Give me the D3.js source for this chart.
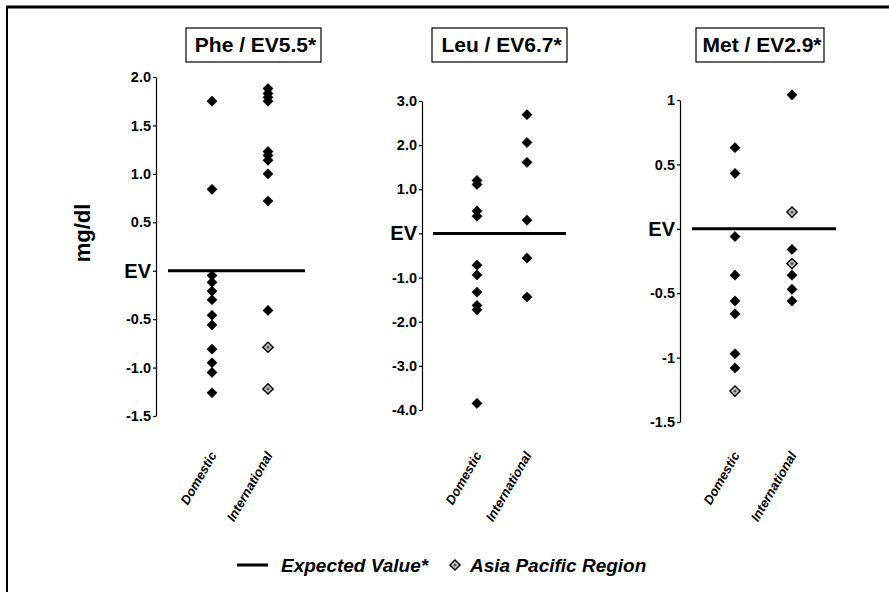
<!DOCTYPE html>
<html>
<head>
<meta charset="utf-8">
<script src="https://cdn.jsdelivr.net/npm/d3@7"></script>
<style>
  body { margin: 0; background: #fff; }
  svg { display: block; font-family: "Liberation Sans", Arial, sans-serif; }
</style>
</head>
<body>
<svg id="chart" width="889" height="592"></svg>
<script>
const categories = ["Domestic", "International"];
const titles = ["Phe / EV5.5*", "Leu / EV6.7*", "Met / EV2.9*"];
const expectedValue = 0;
const legendLabels = ["Expected Value*", "Asia Pacific Region"];

// Phe
const pheDomestic = [1.75, 0.84, -0.05, -0.12, -0.21, -0.30, -0.46, -0.56, -0.81, -0.95, -1.05, -1.26];
const pheDomAsiaPacific = [];
const pheInternational = [1.88, 1.83, 1.79, 1.75, 1.23, 1.19, 1.14, 1.00, 0.72, -0.41];
const pheIntlAsiaPacific = [-0.79, -1.22];
const pheTicks = [2.0, 1.5, 1.0, 0.5, 0, -0.5, -1.0, -1.5];
const pheTickLabels = ["2.0", "1.5", "1.0", "0.5", "EV", "-0.5", "-1.0", "-1.5"];

// Leu
const leuDomestic = [1.20, 1.11, 0.51, 0.39, -0.72, -0.94, -1.33, -1.63, -1.73, -3.85];
const leuDomAsiaPacific = [];
const leuInternational = [2.69, 2.06, 1.61, 0.30, -0.56, -1.44];
const leuIntlAsiaPacific = [];
const leuTicks = [3, 2, 1, 0, -1, -2, -3, -4];
const leuTickLabels = ["3.0", "2.0", "1.0", "EV", "-1.0", "-2.0", "-3.0", "-4.0"];

// Met
const metDomestic = [0.63, 0.43, -0.06, -0.36, -0.56, -0.66, -0.97, -1.08];
const metDomAsiaPacific = [-1.26];
const metInternational = [1.04, -0.16, -0.36, -0.47, -0.56];
const metIntlAsiaPacific = [0.13, -0.27];
const metTicks = [1, 0.5, 0, -0.5, -1, -1.5];
const metTickLabels = ["1", "0.5", "EV", "-0.5", "-1", "-1.5"];

const toPoints = (dom, domAp, intl, intlAp) => [].concat(
    dom.map(v => ({cat: "Domestic", v, ap: false})),
    domAp.map(v => ({cat: "Domestic", v, ap: true})),
    intl.map(v => ({cat: "International", v, ap: false})),
    intlAp.map(v => ({cat: "International", v, ap: true}))
);

const panels = [
    {title: titles[0], ticks: pheTicks, labels: pheTickLabels,
     points: toPoints(pheDomestic, pheDomAsiaPacific, pheInternational, pheIntlAsiaPacific),
     axisX: 156, top: 77, bottom: 416, xs: [212, 268], ev: [168, 305], box: [186, 321]},
    {title: titles[1], ticks: leuTicks, labels: leuTickLabels,
     points: toPoints(leuDomestic, leuDomAsiaPacific, leuInternational, leuIntlAsiaPacific),
     axisX: 422, top: 101, bottom: 410, xs: [477, 527], ev: [433, 566], box: [432, 567]},
    {title: titles[2], ticks: metTicks, labels: metTickLabels,
     points: toPoints(metDomestic, metDomAsiaPacific, metInternational, metIntlAsiaPacific),
     axisX: 680, top: 100, bottom: 422, xs: [735, 792], ev: [692, 836], box: [696, 824]}
];

const svg = d3.select("#chart");

// frame: top and left rules only
svg.append("line").attr("x1", 6).attr("x2", 889).attr("y1", 7).attr("y2", 7)
    .attr("stroke", "#000").attr("stroke-width", 3);
svg.append("line").attr("x1", 7).attr("x2", 7).attr("y1", 6).attr("y2", 592)
    .attr("stroke", "#000").attr("stroke-width", 2);

svg.append("text")
    .attr("transform", "translate(90,233) rotate(-90)")
    .attr("text-anchor", "middle")
    .attr("font-size", 22).attr("font-weight", "bold")
    .text("mg/dl");

const diamond = d3.symbol(d3.symbolSquare, 52);
const drawMarker = (sel, ap) => {
    sel.append("path")
        .attr("d", diamond)
        .attr("transform", "rotate(45)")
        .attr("fill", ap ? "#c4c4c4" : "#000")
        .attr("stroke", "#000")
        .attr("stroke-width", ap ? 1.4 : 0.5);
    if (ap) {
        sel.append("path")
            .attr("d", d3.symbol(d3.symbolSquare, 7))
            .attr("transform", "rotate(45)")
            .attr("fill", "#555");
    }
};

panels.forEach(p => {
    const y = d3.scaleLinear()
        .domain([d3.min(p.ticks), d3.max(p.ticks)])
        .range([p.bottom, p.top]);
    const x = d3.scalePoint().domain(categories).range(p.xs);
    const g = svg.append("g");

    // title box
    g.append("rect")
        .attr("x", p.box[0]).attr("y", 28)
        .attr("width", p.box[1] - p.box[0]).attr("height", 34)
        .attr("fill", "none").attr("stroke", "#000").attr("stroke-width", 1.2);
    g.append("text")
        .attr("x", (p.box[0] + p.box[1]) / 2 + 2).attr("y", 52)
        .attr("text-anchor", "middle")
        .attr("font-size", 21).attr("font-weight", "bold")
        .text(p.title);

    // y axis
    const axis = g.append("g")
        .attr("transform", `translate(${p.axisX},0)`)
        .call(d3.axisLeft(y)
            .tickValues(p.ticks)
            .tickFormat((d, i) => p.labels[i])
            .tickSize(3).tickSizeOuter(0).tickPadding(2));
    axis.select(".domain").attr("stroke-width", 1.2);
    axis.selectAll(".tick line").attr("stroke-width", 1.2);
    axis.selectAll(".tick text")
        .attr("fill", "#000")
        .attr("font-family", null)
        .attr("font-weight", "bold")
        .attr("font-size", (d, i) => p.labels[i] === "EV" ? 20 : 14.5);

    // expected value line
    g.append("line")
        .attr("x1", p.ev[0]).attr("x2", p.ev[1])
        .attr("y1", y(expectedValue)).attr("y2", y(expectedValue))
        .attr("stroke", "#000").attr("stroke-width", 3);

    // points
    g.selectAll("g.pt")
        .data(p.points)
        .join("g")
        .attr("class", "pt")
        .attr("transform", d => `translate(${x(d.cat)},${y(d.v)})`)
        .each(function(d) { drawMarker(d3.select(this), d.ap); });

    // category labels
    g.selectAll("text.cat")
        .data(categories)
        .join("text")
        .attr("class", "cat")
        .attr("transform", d => `translate(${x(d) + 5},455) rotate(-60)`)
        .attr("text-anchor", "end")
        .attr("font-size", 13).attr("font-weight", "bold").attr("font-style", "italic")
        .text(d => d);
});

// legend
const legend = svg.append("g");
legend.append("line")
    .attr("x1", 237).attr("x2", 268).attr("y1", 565).attr("y2", 565)
    .attr("stroke", "#000").attr("stroke-width", 3);
legend.append("text")
    .attr("x", 281).attr("y", 572)
    .attr("font-size", 19).attr("font-weight", "bold").attr("font-style", "italic")
    .text(legendLabels[0]);
drawMarker(legend.append("g").attr("transform", "translate(455,565)"), true);
legend.append("text")
    .attr("x", 470).attr("y", 572)
    .attr("font-size", 19).attr("font-weight", "bold").attr("font-style", "italic")
    .text(legendLabels[1]);
</script>
</body>
</html>
